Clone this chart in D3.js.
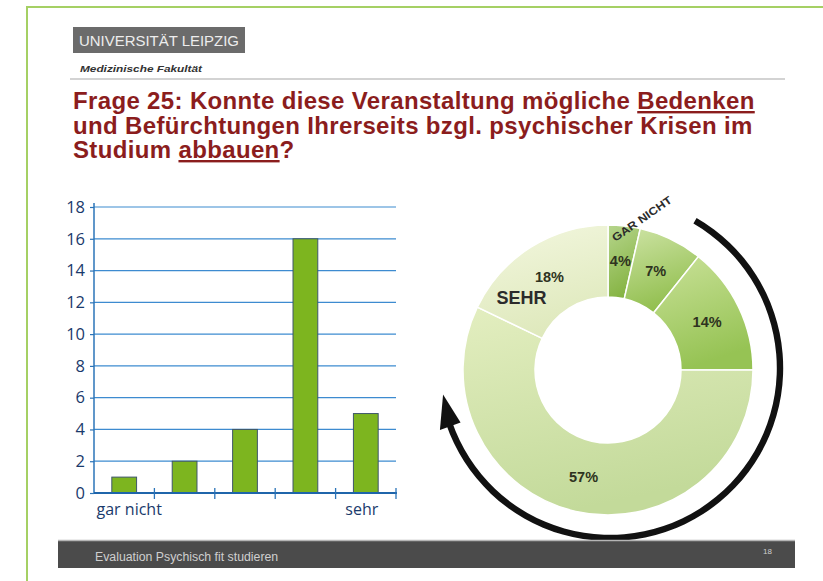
<!DOCTYPE html>
<html lang='de'>

<head>
   <meta charset='UTF-8'>
   <title>Frage 25</title>
   <script src='https://d3js.org/d3.v7.min.js'></script>
   <style>
      body {
         margin: 0;
         background: #fff;
      }

      svg {
         display: block;
      }
   </style>
</head>

<body>
   <div id='chart'></div>
   <script>
      // answers to question 25, from "gar nicht" to "sehr"
      const categories = ['1', '2', '3', '4', '5'];
      const counts = [1, 2, 4, 16, 5];
      const tickLabels = ['gar nicht', '', '', '', 'sehr'];
      const yTicks = [0, 2, 4, 6, 8, 10, 12, 14, 16, 18];

      const titleLines = [
         [['Frage 25: Konnte diese Veranstaltung mögliche ', false], ['Bedenken', true]],
         [['und Befürchtungen Ihrerseits bzgl. psychischer Krisen im', false]],
         [['Studium ', false], ['abbauen', true], ['?', false]]
      ];

      const W = 823, H = 581;
      const font = 'Liberation Sans, Arial, sans-serif';
      const svg = d3.select('#chart').append('svg').attr('width', W).attr('height', H);
      const defs = svg.append('defs');

      // slide frame
      svg.append('path').attr('d', `M27,${H} V7 H${W}`)
         .attr('fill', 'none').attr('stroke', '#a5d064').attr('stroke-width', 2);

      // header
      svg.append('rect').attr('x', 73).attr('y', 27).attr('width', 172).attr('height', 26).attr('fill', '#6b6b6b');
      svg.append('text').attr('x', 79).attr('y', 46)
         .attr('textLength', 160).attr('lengthAdjust', 'spacingAndGlyphs')
         .style('font-family', font).style('font-size', '15px')
         .attr('fill', '#ededed').text('UNIVERSITÄT LEIPZIG');
      svg.append('text').attr('x', 80).attr('y', 72)
         .attr('textLength', 122).attr('lengthAdjust', 'spacingAndGlyphs')
         .style('font-family', font).style('font-size', '9.5px')
         .style('font-weight', 'bold').style('font-style', 'italic')
         .attr('fill', '#333').text('Medizinische Fakultät');
      svg.append('line').attr('x1', 70).attr('x2', 785).attr('y1', 79).attr('y2', 79)
         .attr('stroke', '#c4c4c4').attr('stroke-width', 1.5);

      const title = svg.append('text')
         .style('font-family', font).style('font-size', '24px').style('letter-spacing', '0.35px')
         .style('font-weight', 'bold').attr('fill', '#8b1d1d');
      titleLines.forEach((parts, i) => {
         parts.forEach(([txt, u], j) => {
            const ts = title.append('tspan').text(txt);
            if (j === 0) ts.attr('x', 73).attr('y', 109 + i * 24.5);
            if (u) ts.style('text-decoration', 'underline');
         });
      });

      // ---------- bar chart ----------
      const x = d3.scaleBand().domain(categories).range([94, 396]).padding(0);
      const y = d3.scaleLinear().domain([0, 18]).range([493, 207]);
      const barW = x.bandwidth() * 0.41;
      const axisFont = 'Open Sans, DejaVu Sans, sans-serif';

      const bars = svg.append('g');

      bars.selectAll('.grid').data(yTicks.filter(d => d > 0)).join('line')
         .attr('class', 'grid')
         .attr('x1', 94).attr('x2', 396)
         .attr('y1', d => y(d)).attr('y2', d => y(d))
         .attr('stroke', '#3d8bd0').attr('stroke-width', 1.2);

      const yAxis = bars.append('g').attr('transform', 'translate(94,0)')
         .call(d3.axisLeft(y).tickValues(yTicks).tickSize(4).tickPadding(5));
      yAxis.select('.domain').attr('stroke', '#2b74b8').attr('stroke-width', 1.5).attr('d', `M0,${y(0)}V${y(18) - 4}`);
      yAxis.selectAll('.tick line').attr('stroke', '#2b74b8').attr('stroke-width', 1.2);
      yAxis.selectAll('.tick text').attr('fill', '#1a3a6c')
         .style('font-family', axisFont).style('font-size', '16.5px');

      bars.selectAll('.bar').data(counts).join('rect')
         .attr('class', 'bar')
         .attr('x', (d, i) => x(categories[i]) + (x.bandwidth() - barW) / 2)
         .attr('y', d => y(d))
         .attr('width', barW)
         .attr('height', d => y(0) - y(d))
         .attr('fill', '#7db51f')
         .attr('stroke', '#3f566a').attr('stroke-width', 1);

      const xAxis = bars.append('g').attr('transform', `translate(0,${y(0)})`)
         .call(d3.axisBottom(x).tickSize(0).tickPadding(11).tickFormat((d, i) => tickLabels[i]));
      xAxis.select('.domain').attr('stroke', '#1f65aa').attr('stroke-width', 2.2).attr('d', 'M94,0H397');
      xAxis.selectAll('.tick text').attr('fill', '#1a3a6c').attr('dx', (d, i) => i === 0 ? 5 : -4)
         .style('font-family', axisFont).style('font-size', '16px');
      xAxis.selectAll('.sep').data(categories).join('line')
         .attr('class', 'sep')
         .attr('x1', d => x(d) + x.bandwidth())
         .attr('x2', d => x(d) + x.bandwidth())
         .attr('y1', -5).attr('y2', 6)
         .attr('stroke', '#2b74b8').attr('stroke-width', 1.3);

      // ---------- donut ----------
      const cx = 608, cy = 370;
      const total = d3.sum(counts);
      const pieTop = ['#b6d58c', '#cde3a4', '#c9e198', '#e3eec0', '#f3f7df'];
      const pieBottom = ['#86b444', '#92bf4f', '#96c354', '#c3da9a', '#dfe9bd'];

      pieTop.forEach((c, i) => {
         const g = defs.append('linearGradient').attr('id', 'sl' + i)
            .attr('x1', 0).attr('y1', 0).attr('x2', 0.3).attr('y2', 1);
         g.append('stop').attr('offset', '0%').attr('stop-color', c);
         g.append('stop').attr('offset', '100%').attr('stop-color', pieBottom[i]);
      });

      const pie = d3.pie().sort(null).value(d => d);
      const arcs = pie(counts);
      const arc = d3.arc().innerRadius(73).outerRadius(145);
      const labelArc = d3.arc().innerRadius(110).outerRadius(110);

      const donut = svg.append('g').attr('transform', `translate(${cx},${cy})`);
      donut.selectAll('path').data(arcs).join('path')
         .attr('d', arc)
         .attr('fill', (d, i) => `url(#sl${i})`)
         .attr('stroke', '#fff').attr('stroke-width', 1.5);

      donut.selectAll('.pct').data(arcs).join('text')
         .attr('class', 'pct')
         .attr('transform', d => `translate(${labelArc.centroid(d)})`)
         .attr('text-anchor', 'middle').attr('dy', '0.35em')
         .style('font-family', font).style('font-size', '14.5px')
         .style('font-weight', 'bold').attr('fill', '#2e3320')
         .text(d => Math.round(d.value / total * 100) + '%');

      const sehrPos = labelArc.centroid(arcs[4]);
      donut.append('text')
         .attr('x', sehrPos[0] - 28).attr('y', sehrPos[1] + 27)
         .attr('text-anchor', 'middle')
         .style('font-family', font).style('font-size', '18px')
         .style('font-weight', 'bold').attr('fill', '#2b2b2b').text('SEHR');

      const garArc = d3.arc().innerRadius(152).outerRadius(152);
      const garPos = garArc.centroid(arcs[0]);
      donut.append('text')
         .attr('transform', `translate(${garPos[0] + 19},${garPos[1] + 3}) rotate(-35)`)
         .attr('text-anchor', 'middle')
         .attr('textLength', 70).attr('lengthAdjust', 'spacingAndGlyphs')
         .style('font-family', font).style('font-size', '11px')
         .style('font-weight', 'bold').attr('fill', '#2b2b2b').text('GAR NICHT');

      // curved arrow round the donut
      const ar = 170, acx = 610, acy = 368;
      const a0 = 30 * Math.PI / 180, a1 = 250 * Math.PI / 180, aTip = 261 * Math.PI / 180;
      const pt = (a, r) => [acx + r * Math.sin(a), acy - r * Math.cos(a)];
      const arrow = svg.append('g');
      arrow.append('path')
         .attr('d', d3.arc().innerRadius(ar - 3.2).outerRadius(ar + 3.2).startAngle(a0).endAngle(a1 + 0.02)())
         .attr('transform', `translate(${acx},${acy})`)
         .attr('fill', '#111');
      arrow.append('path')
         .attr('d', 'M' + [pt(a1, ar - 11), pt(aTip, ar - 1), pt(a1, ar + 11)].join('L') + 'Z')
         .attr('fill', '#111');

      // footer
      svg.append('rect').attr('x', 58).attr('y', 540).attr('width', 737).attr('height', 28).attr('fill', '#4b4b4b');
      svg.append('line').attr('x1', 58).attr('x2', 795).attr('y1', 540.5).attr('y2', 540.5)
         .attr('stroke', '#b5b5b5').attr('stroke-width', 1.5);
      svg.append('text').attr('x', 95).attr('y', 561)
         .style('font-family', font).style('font-size', '12.3px')
         .attr('fill', '#cfcfcf').text('Evaluation Psychisch fit studieren');
      svg.append('text').attr('x', 763).attr('y', 554)
         .style('font-family', font).style('font-size', '8px')
         .attr('fill', '#cfcfcf').text('18');
   </script>
</body>

</html>
